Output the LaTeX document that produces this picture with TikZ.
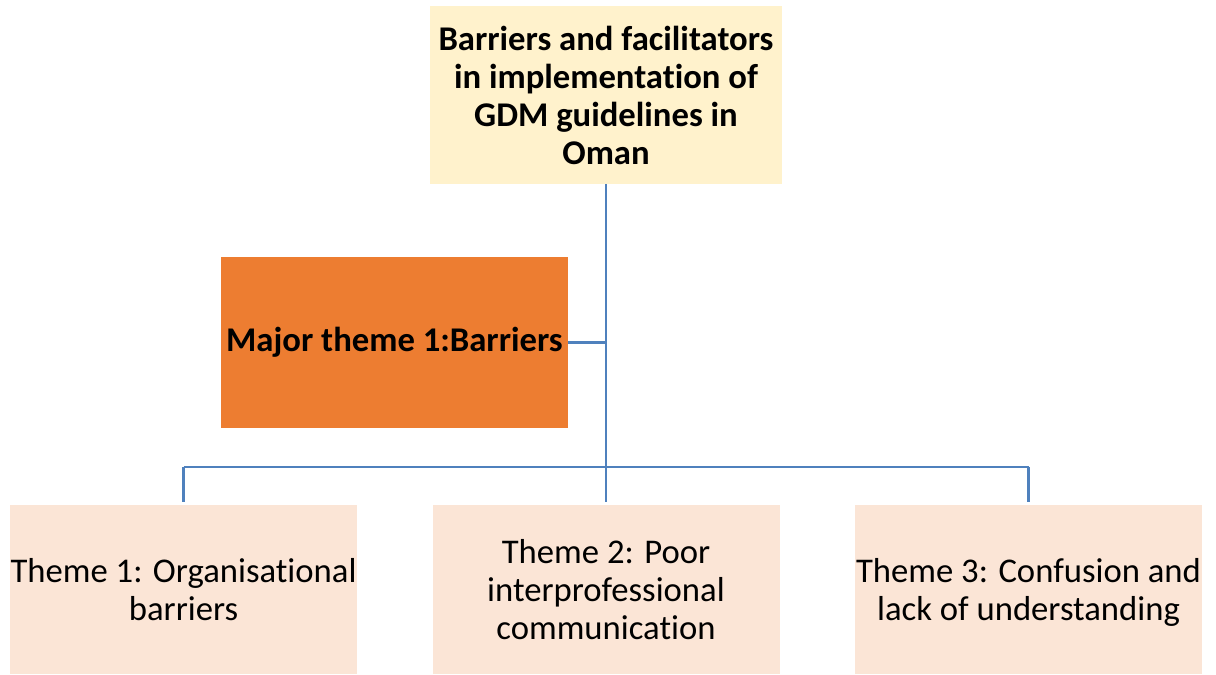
\documentclass[tikz,border=0pt]{standalone}
\usepackage{fontspec}
\setmainfont{Carlito}[Ligatures={NoCommon}]
\usetikzlibrary{positioning}

\definecolor{topfill}{HTML}{FFF2CC}
\definecolor{majorfill}{HTML}{ED7D31}
\definecolor{themefill}{HTML}{FBE5D6}
\definecolor{linkblue}{HTML}{4F81BD}

\begin{document}
\begin{tikzpicture}[
        x=0.75pt,y=-0.75pt,
        box/.style={inner sep=0pt, align=center, font=\fontsize{26}{28.5}\selectfont},
        rootbox/.style={box, fill=topfill, minimum width=264pt, minimum height=132.75pt, font=\fontsize{26}{28.5}\selectfont\bfseries},
        majorbox/.style={box, fill=majorfill, minimum width=260.25pt, minimum height=128.25pt, font=\fontsize{26}{28.5}\selectfont\bfseries},
        themebox/.style={box, fill=themefill, text depth=0pt, minimum width=260.25pt, minimum height=126.75pt},
        link/.style={draw=linkblue, line width=2.2pt},
        ]
        \useasboundingbox (0,0) rectangle (1216,674);

        \node[rootbox]  (root)   at (606,95)      {Barriers and facilitators\\in implementation of\\GDM guidelines in\\Oman};
        \node[majorbox] (major)  at (394.5,342.5) {Major theme 1:Barriers};
        \node[themebox] (theme1) at (183.5,589.5) {Theme 1: Organisational\\barriers};
        \node[themebox] (theme2) at (606,589.5)   {Theme 2: Poor\\interprofessional\\communication};
        \node[themebox] (theme3) at (1028.5,589.5){Theme 3: Confusion and\\lack of understanding};
        \coordinate (split) at (606,467);

        \draw[link] (root.south) -- (split);
        \draw[link] (major.east) -- (major.east -| root.south);
        \draw[link] (theme1.north |- split) -- (theme3.north |- split);
        \draw[link, shorten >=2pt] (theme1.north |- split) -- (theme1.north);
        \draw[link, shorten >=2pt] (split) -- (theme2.north);
        \draw[link, shorten >=2pt] (theme3.north |- split) -- (theme3.north);
      \end{tikzpicture}
\end{document}
